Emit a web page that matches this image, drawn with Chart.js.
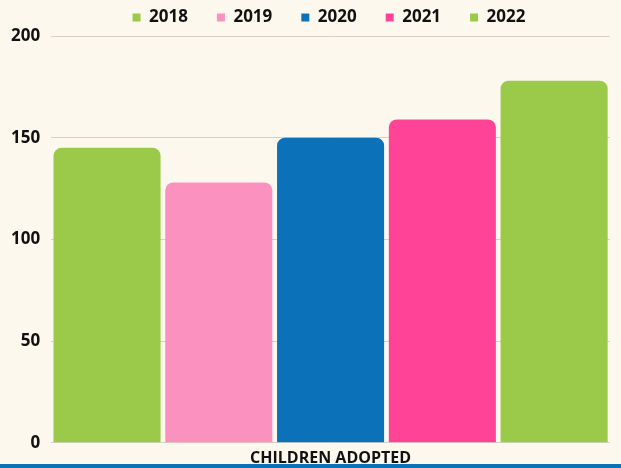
<!DOCTYPE html>
<html>
<head>
<meta charset="utf-8">
<script src="https://cdn.jsdelivr.net/npm/chart.js@4/dist/chart.umd.min.js"></script>
<style>
  html, body { margin: 0; padding: 0; background: #fdf8ee; }
  #wrap { width: 621px; height: 468px; position: relative; }
  #line { position: absolute; left: 0; bottom: 0; width: 621px; height: 4px; background: #0b72b9; }
  canvas { display: block; }
</style>
</head>
<body>
<div id="wrap"><canvas id="c" width="621" height="468"></canvas><div id="line"></div></div>
<script>
const categories = ['CHILDREN ADOPTED'];
const seriesNames = ['2018', '2019', '2020', '2021', '2022'];
const seriesValues = [145, 128, 150, 159, 178];
const seriesColors = ['#9bc94a', '#fb91bf', '#0b72b9', '#ff4497', '#9bc94a'];
const yTicks = [0, 50, 100, 150, 200];

const datasets = seriesNames.map((name, i) => ({
  label: name,
  data: [seriesValues[i]],
  backgroundColor: seriesColors[i],
  borderRadius: { topLeft: 8, topRight: 8, bottomLeft: 0, bottomRight: 0 },
  borderSkipped: false,
  barPercentage: 0.958,
  categoryPercentage: 1.0
}));

const legendShift = {
  id: 'legendShift',
  afterLayout(chart) {
    if (chart.legend) { chart.legend.left += 24; chart.legend.right += 24; }
  }
};

new Chart(document.getElementById('c'), {
  type: 'bar',
  data: { labels: categories, datasets },
  plugins: [legendShift],
  options: {
    responsive: false,
    animation: false,
    layout: { padding: { left: 0, right: 11, top: -20, bottom: -6 } },
    plugins: {
      legend: {
        position: 'top',
        labels: {
          boxWidth: 8, boxHeight: 8, padding: 29,
          color: '#111',
          font: { family: 'Open Sans', weight: 'bold', size: 17 }
        }
      },
      tooltip: { enabled: false }
    },
    scales: {
      x: {
        grid: { display: false, drawTicks: false },
        border: { display: false },
        ticks: { color: '#111', padding: 6, font: { family: 'Open Sans', weight: 'bold', size: 16 } }
      },
      y: {
        min: 0, max: 200,
        afterBuildTicks: (axis) => { axis.ticks = yTicks.map(v => ({ value: v })); },
        grid: { color: '#d6d1c4', lineWidth: 1, drawTicks: false },
        border: { display: false },
        ticks: { color: '#111', padding: 11, font: { family: 'Open Sans', weight: 'bold', size: 17 } }
      }
    }
  }
});
</script>
</body>
</html>
